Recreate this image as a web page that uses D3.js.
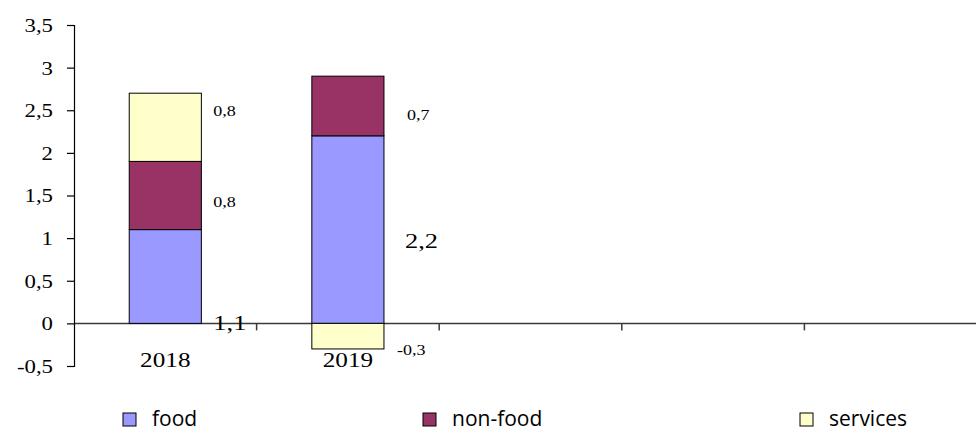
<!DOCTYPE html>
<html>
<head>
<meta charset="utf-8">
<script src="https://cdn.jsdelivr.net/npm/d3@7"></script>
<style>
  html, body { margin: 0; padding: 0; background: #fff; }
  svg { display: block; }
</style>
</head>
<body>
<svg id="chart" width="976" height="432"></svg>
<script>
// Category slots on the x axis (only the first two hold data)
const categories = ["2018", "2019", "", "", ""];
const years = ["2018", "2019"];

// Contribution of each component, per year
const food = [1.1, 2.2];
const nonFood = [0.8, 0.7];
const services = [0.8, -0.3];

const seriesNames = ["food", "non-food", "services"];
const seriesColors = ["#9999FF", "#993366", "#FFFFCC"];

const yTicks = [-0.5, 0, 0.5, 1, 1.5, 2, 2.5, 3, 3.5];

// Hand-placed label nudges (px) relative to each segment: [dx from bar edge, dy from segment middle]
const labelNudge = {
  "2018": { "food": [12, 46], "non-food": [12, 6], "services": [12, -16] },
  "2019": { "food": [21, 11], "non-food": [23, 9], "services": [13, 14] }
};

const svg = d3.select("#chart");
const left = 74;
const stretch = 1.2; // glyphs are drawn slightly wide

const x = d3.scaleBand()
  .domain(d3.range(categories.length))
  .range([left, left + 5 * 182.6])
  .paddingInner(0).paddingOuter(0);

const y = d3.scaleLinear().domain([-0.5, 3.5]).range([366, 25]);

const fmt = v => String(v).replace(".", ",");

// Build stacked segments (positives stack upward, negatives downward)
const series = [food, nonFood, services];
const segments = [];
years.forEach((yr, i) => {
  let pos = 0, neg = 0;
  series.forEach((vals, s) => {
    const v = vals[i];
    let y0, y1;
    if (v >= 0) { y0 = pos; y1 = pos + v; pos = y1; }
    else { y0 = neg + v; y1 = neg; neg = y0; }
    segments.push({ year: yr, idx: i, name: seriesNames[s], color: seriesColors[s], value: v, y0, y1 });
  });
});

const barW = x.bandwidth() * 0.395;

// Zero line across the plot
svg.append("line")
  .attr("x1", left).attr("x2", x.range()[1])
  .attr("y1", y(0)).attr("y2", y(0))
  .attr("stroke", "#3a3a3a").attr("stroke-width", 1.5);

// Category divider ticks below the zero line
svg.append("g").selectAll("line")
  .data(d3.range(1, categories.length))
  .join("line")
  .attr("x1", d => x(d)).attr("x2", d => x(d))
  .attr("y1", y(0)).attr("y2", y(0) + 7)
  .attr("stroke", "#3a3a3a").attr("stroke-width", 1.5);

// Bars
svg.append("g").selectAll("rect")
  .data(segments)
  .join("rect")
  .attr("x", d => x(d.idx) + x.bandwidth() / 2 - barW / 2)
  .attr("width", barW)
  .attr("y", d => y(d.y1))
  .attr("height", d => y(d.y0) - y(d.y1))
  .attr("fill", d => d.color)
  .attr("stroke", "#000")
  .attr("stroke-width", 1);

// Y axis
const yAxis = d3.axisLeft(y)
  .tickValues(yTicks)
  .tickFormat(fmt)
  .tickSizeInner(7).tickSizeOuter(7).tickPadding(0);
const ya = svg.append("g").attr("transform", `translate(${left},0)`).call(yAxis);
ya.select(".domain").attr("stroke", "#000").attr("stroke-width", 1.2);
ya.selectAll(".tick line").attr("stroke", "#000").attr("stroke-width", 1.2);
ya.selectAll(".tick text").remove();
ya.selectAll(".tick").append("text")
  .attr("transform", `translate(-21,0) scale(${stretch},1)`)
  .attr("dy", "0.34em")
  .attr("text-anchor", "end")
  .attr("font-family", "'Liberation Serif', 'Times New Roman', serif")
  .attr("font-size", 19)
  .attr("fill", "#000")
  .text(d => fmt(d));

// Category labels
svg.append("g").selectAll("text")
  .data(years.map((yr, i) => ({ yr, i })))
  .join("text")
  .attr("transform", d => `translate(${x(d.i) + x.bandwidth() / 2},367) scale(${stretch},1)`)
  .attr("text-anchor", "middle")
  .attr("font-family", "'Liberation Serif', 'Times New Roman', serif")
  .attr("font-size", 21)
  .attr("fill", "#000")
  .text(d => d.yr);

// Value labels beside each segment
svg.append("g").selectAll("text")
  .data(segments)
  .join("text")
  .attr("transform", d => {
    const n = labelNudge[d.year][d.name];
    const bx = x(d.idx) + x.bandwidth() / 2 + barW / 2 + n[0];
    const by = y((d.y0 + d.y1) / 2) + n[1];
    return `translate(${bx},${by}) scale(${stretch},1)`;
  })
  .attr("dy", "0.34em")
  .attr("text-anchor", "start")
  .attr("font-family", "'Liberation Serif', 'Times New Roman', serif")
  .attr("font-size", d => d.name === "food" ? 22 : 15)
  .attr("fill", "#000")
  .text(d => fmt(d.value));

// Legend
const legendX = [123, 423, 800];
const lg = svg.append("g").selectAll("g")
  .data(seriesNames.map((n, i) => ({ n, c: seriesColors[i], lx: legendX[i] })))
  .join("g");
lg.append("rect")
  .attr("x", d => d.lx).attr("y", 413)
  .attr("width", 13).attr("height", 13)
  .attr("fill", d => d.c).attr("stroke", "#000").attr("stroke-width", 1);
lg.append("text")
  .attr("x", d => d.lx + 29).attr("y", 426)
  .attr("font-family", "'Open Sans', 'DejaVu Sans', sans-serif")
  .attr("font-size", 21)
  .attr("fill", "#000")
  .text(d => d.n);
</script>
</body>
</html>
